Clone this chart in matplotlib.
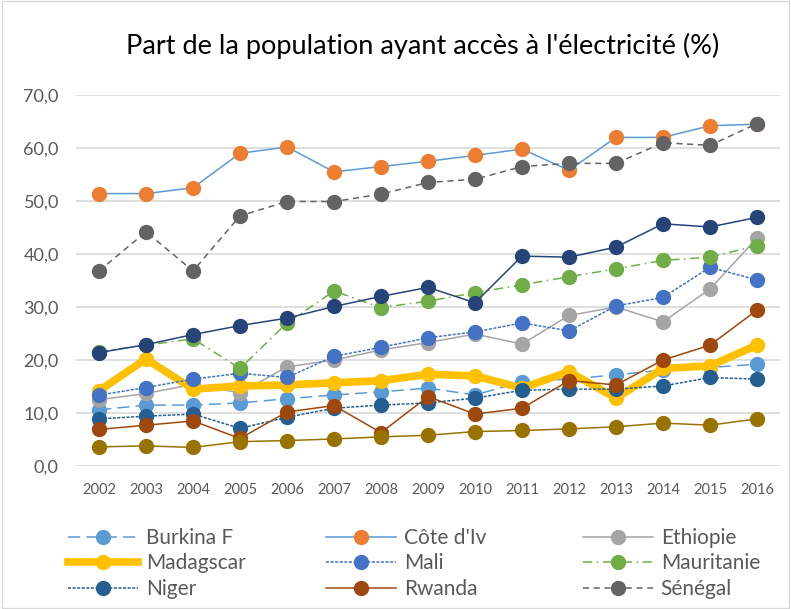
import matplotlib
matplotlib.use('Agg')
import matplotlib.pyplot as plt
from matplotlib.patches import Rectangle
from matplotlib.ticker import FuncFormatter

plt.rcParams['font.family'] = ['Lato', 'DejaVu Sans']

years = list(range(2002, 2017))

burkina = [10.6, 11.5, 11.5, 11.9, 12.7, 13.4, 14.0, 14.7, 13.4, 15.9, 16.4, 17.2, 18.1, 18.6, 19.2]
cote = [51.4, 51.4, 52.5, 59.0, 60.2, 55.5, 56.5, 57.5, 58.6, 59.8, 55.8, 62.0, 62.0, 64.2, 64.5]
ethiopie = [12.5, 13.7, 15.4, 13.8, 18.7, 20.0, 21.9, 23.3, 24.9, 23.0, 28.4, 30.0, 27.2, 33.4, 43.0]
madagascar = [14.2, 20.2, 14.5, 15.1, 15.3, 15.7, 16.1, 17.3, 17.0, 14.7, 17.8, 12.8, 18.4, 18.9, 22.8]
mali = [13.4, 14.8, 16.4, 17.5, 16.7, 20.7, 22.4, 24.2, 25.3, 27.0, 25.5, 30.2, 31.8, 37.5, 35.1]
mauritanie = [21.6, 22.8, 24.0, 18.4, 27.0, 33.0, 29.9, 31.1, 32.7, 34.2, 35.7, 37.2, 38.8, 39.4, 41.6]
niger = [8.9, 9.4, 9.8, 7.1, 9.2, 10.9, 11.5, 11.9, 12.8, 14.3, 14.5, 14.5, 15.1, 16.7, 16.4]
rwanda = [6.9, 7.7, 8.5, 5.2, 10.2, 11.4, 6.3, 13.1, 9.8, 10.9, 16.1, 15.3, 20.0, 22.8, 29.4]
senegal = [36.8, 44.2, 36.8, 47.2, 49.9, 49.9, 51.3, 53.5, 54.1, 56.5, 57.1, 57.1, 61.0, 60.5, 64.6]
serie10 = [3.6, 3.8, 3.5, 4.6, 4.8, 5.1, 5.5, 5.8, 6.5, 6.7, 7.0, 7.4, 8.1, 7.7, 8.9]
serie11 = [21.4, 22.9, 24.8, 26.5, 27.9, 30.1, 32.0, 33.7, 30.8, 39.6, 39.4, 41.3, 45.7, 45.1, 46.9]

# (label, valeurs, couleur ligne, couleur marqueur, style, epaisseur)
series = [
    ('Burkina F', burkina, '#5B9BD5', '#5B9BD5', (0, (8, 4)), 1.1),
    ("Côte d'Iv", cote, '#5B9BD5', '#ED7D31', '-', 1.1),
    ('Ethiopie', ethiopie, '#A5A5A5', '#A5A5A5', '-', 1.1),
    ('Madagscar', madagascar, '#FFC000', '#FFC000', '-', 5.5),
    ('Mali', mali, '#4472C4', '#4472C4', (0, (2, 1)), 1.1),
    ('Mauritanie', mauritanie, '#70AD47', '#70AD47', (0, (6, 3, 1, 3)), 1.1),
    ('Niger', niger, '#255E91', '#255E91', (0, (2, 1)), 1.1),
    ('Rwanda', rwanda, '#9E480E', '#9E480E', '-', 1.1),
    ('Sénégal', senegal, '#636363', '#636363', (0, (4, 3)), 1.1),
    ('_serie10', serie10, '#997300', '#997300', '-', 1.1),
    ('_serie11', serie11, '#264478', '#264478', '-', 1.1),
]

fig = plt.figure(figsize=(7.91, 6.09), dpi=100)
ax = fig.add_axes([0.0955, 0.2348, 0.8912, 0.6092])

lines = []
for label, vals, lc, mc, ls, lw in series:
    l, = ax.plot(years, vals, color=lc, linestyle=ls, linewidth=lw, marker='o',
                 markersize=10, markerfacecolor=mc, markeredgecolor=mc, label=label)
    lines.append(l)

ax.set_xlim(2001.5, 2016.5)
ax.set_ylim(0, 70)
ax.set_yticks(range(0, 71, 10))
ax.set_xticks(years)
ax.yaxis.set_major_formatter(FuncFormatter(lambda v, p: ('%.1f' % v).replace('.', ',')))
ax.grid(axis='y', color='#D9D9D9', linewidth=1.2)
ax.set_axisbelow(True)
for s in ax.spines.values():
    s.set_visible(False)
ax.tick_params(axis='both', length=0, colors='#595959')
ax.tick_params(axis='y', labelsize=13, pad=12)
ax.tick_params(axis='x', labelsize=10.5, pad=12)

fig.text(0.534, 0.925, "Part de la population ayant accès à l'électricité (%)",
         ha='center', va='center', fontsize=19.5, color='#000000')

# legende en 3 colonnes, remplies ligne par ligne comme dans Excel
col_x = [68, 326, 583]
for c in range(3):
    hs = [lines[c + 3 * r] for r in range(3)]
    fig.legend(handles=hs, loc='upper left', bbox_to_anchor=(col_x[c] / 791, 0.133),
               frameon=False, fontsize=15, handlelength=3.35, borderpad=0,
               borderaxespad=0, labelspacing=0.26, handletextpad=0.38,
               labelcolor='#595959')

fig.patches.append(Rectangle((0.002, 0.002), 0.996, 0.996, transform=fig.transFigure,
                             fill=False, edgecolor='#D9D9D9', linewidth=1))

fig.savefig('out.png', dpi=100)
